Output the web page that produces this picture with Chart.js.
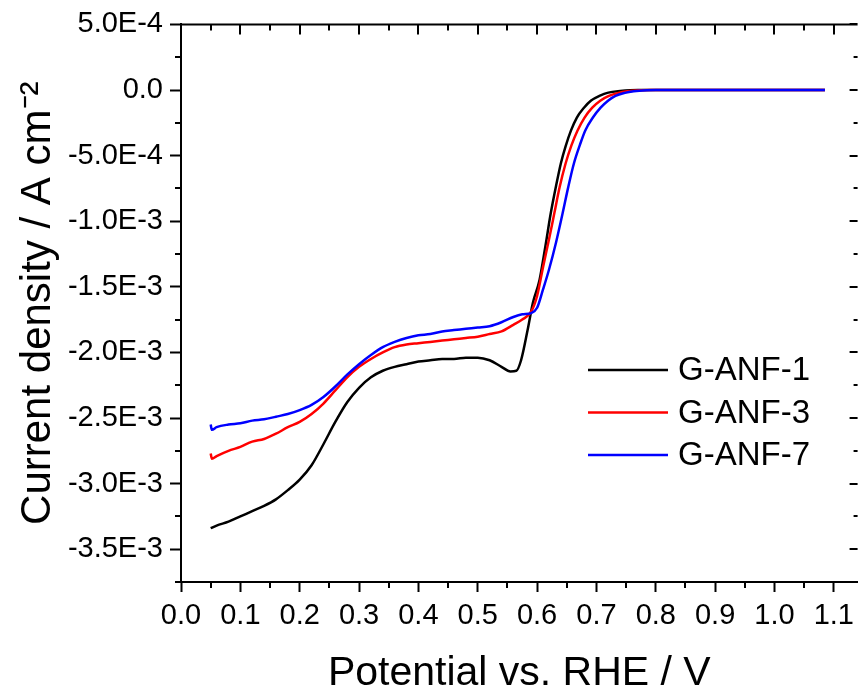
<!DOCTYPE html>
<html>
<head>
<meta charset="utf-8">
<script src="https://cdn.jsdelivr.net/npm/chart.js@4.4.1/dist/chart.umd.min.js"></script>
<style>
  html, body { margin: 0; padding: 0; background: #fff; }
  #wrap { width: 861px; height: 692px; }
</style>
</head>
<body>
<div id="wrap"><canvas id="lsv"></canvas></div>
<script>
// LSV curves, potential in V vs RHE, current density in mA/cm2 (converted to A/cm2 below)
const seriesNames = ['G-ANF-1', 'G-ANF-3', 'G-ANF-7'];
const seriesColors = ['#000000', '#ff0000', '#0000ff'];

const anf1E = [0.05, 0.06, 0.08, 0.10, 0.12, 0.14, 0.16, 0.18, 0.20, 0.22, 0.24, 0.26, 0.28, 0.30, 0.32, 0.34, 0.36, 0.38, 0.40, 0.42, 0.44, 0.46, 0.48, 0.50, 0.52, 0.54, 0.555, 0.565, 0.573, 0.584, 0.593, 0.604, 0.614, 0.623, 0.632, 0.64, 0.648, 0.657, 0.667, 0.679, 0.691, 0.705, 0.72, 0.74, 0.77, 0.85, 0.95, 1.05, 1.085];
const anf1J = [-3.34, -3.32, -3.29, -3.25, -3.21, -3.17, -3.12, -3.05, -2.97, -2.86, -2.70, -2.53, -2.38, -2.27, -2.19, -2.14, -2.11, -2.09, -2.07, -2.06, -2.05, -2.05, -2.04, -2.04, -2.06, -2.11, -2.145, -2.14, -2.06, -1.83, -1.62, -1.45, -1.19, -0.94, -0.73, -0.56, -0.43, -0.31, -0.21, -0.135, -0.08, -0.045, -0.02, -0.008, 0, 0, 0, 0, 0];

const anf3E = [0.05, 0.052, 0.06, 0.08, 0.10, 0.12, 0.14, 0.16, 0.18, 0.20, 0.22, 0.24, 0.26, 0.28, 0.30, 0.32, 0.34, 0.36, 0.38, 0.40, 0.42, 0.44, 0.46, 0.48, 0.50, 0.52, 0.54, 0.56, 0.575, 0.59, 0.60, 0.61, 0.62, 0.629, 0.638, 0.648, 0.658, 0.668, 0.68, 0.693, 0.707, 0.721, 0.737, 0.752, 0.775, 0.79, 0.85, 0.95, 1.05, 1.085];
const anf3J = [-2.77, -2.81, -2.79, -2.75, -2.72, -2.68, -2.66, -2.62, -2.57, -2.53, -2.47, -2.39, -2.29, -2.19, -2.11, -2.05, -2.00, -1.96, -1.94, -1.93, -1.92, -1.91, -1.90, -1.89, -1.88, -1.86, -1.84, -1.79, -1.75, -1.69, -1.57, -1.35, -1.14, -0.94, -0.74, -0.56, -0.42, -0.31, -0.21, -0.135, -0.08, -0.045, -0.022, -0.01, -0.002, 0, 0, 0, 0, 0];

const anf7E = [0.05, 0.052, 0.06, 0.08, 0.10, 0.12, 0.14, 0.16, 0.18, 0.20, 0.22, 0.24, 0.26, 0.28, 0.30, 0.32, 0.34, 0.36, 0.38, 0.40, 0.42, 0.44, 0.46, 0.48, 0.50, 0.52, 0.54, 0.56, 0.575, 0.59, 0.60, 0.61, 0.62, 0.632, 0.643, 0.652, 0.662, 0.672, 0.681, 0.694, 0.707, 0.72, 0.732, 0.748, 0.763, 0.785, 0.80, 0.85, 0.95, 1.05, 1.085];
const anf7J = [-2.55, -2.59, -2.57, -2.55, -2.54, -2.52, -2.51, -2.49, -2.47, -2.44, -2.40, -2.34, -2.26, -2.17, -2.09, -2.02, -1.96, -1.92, -1.89, -1.87, -1.86, -1.84, -1.83, -1.82, -1.81, -1.80, -1.77, -1.73, -1.71, -1.70, -1.66, -1.52, -1.37, -1.16, -0.94, -0.75, -0.56, -0.42, -0.31, -0.21, -0.135, -0.08, -0.045, -0.022, -0.01, -0.002, 0, 0, 0, 0, 0];

const xMajor = [0.0, 0.1, 0.2, 0.3, 0.4, 0.5, 0.6, 0.7, 0.8, 0.9, 1.0, 1.1];
const xTickLabels = ['0.0', '0.1', '0.2', '0.3', '0.4', '0.5', '0.6', '0.7', '0.8', '0.9', '1.0', '1.1'];
const xMinor = [0.05, 0.15, 0.25, 0.35, 0.45, 0.55, 0.65, 0.75, 0.85, 0.95, 1.05];

const yMajor = [5e-4, 0, -5e-4, -1e-3, -1.5e-3, -2e-3, -2.5e-3, -3e-3, -3.5e-3];
const yTickLabels = ['5.0E-4', '0.0', '-5.0E-4', '-1.0E-3', '-1.5E-3', '-2.0E-3', '-2.5E-3', '-3.0E-3', '-3.5E-3'];
const yMinor = [2.5e-4, -2.5e-4, -7.5e-4, -1.25e-3, -1.75e-3, -2.25e-3, -2.75e-3, -3.25e-3, -3.75e-3];

const FONT = "'Liberation Sans', Arial, sans-serif";

function toPoints(E, J) {
  return E.map((e, i) => ({ x: e, y: J[i] * 1e-3 }));
}

// minor ticks, top border with inward ticks, right inward ticks
const frameTicks = {
  id: 'frameTicks',
  afterDraw(chart) {
    const { ctx, chartArea: a, scales: { x, y } } = chart;
    ctx.save();
    ctx.strokeStyle = '#000';
    ctx.lineWidth = 2;
    ctx.beginPath();
    ctx.moveTo(a.left - 1, a.top);
    ctx.lineTo(a.right, a.top);
    xMajor.forEach(v => {
      const px = Math.round(x.getPixelForValue(v));
      ctx.moveTo(px, a.top); ctx.lineTo(px, a.top + 10);
    });
    xMinor.forEach(v => {
      const px = Math.round(x.getPixelForValue(v));
      ctx.moveTo(px, a.top); ctx.lineTo(px, a.top + 6);
      ctx.moveTo(px, a.bottom); ctx.lineTo(px, a.bottom + 6);
    });
    yMajor.forEach(v => {
      const py = Math.round(y.getPixelForValue(v));
      ctx.moveTo(a.right, py); ctx.lineTo(a.right - 8, py);
    });
    yMinor.forEach(v => {
      const py = Math.round(y.getPixelForValue(v));
      ctx.moveTo(a.left, py); ctx.lineTo(a.left - 6, py);
      ctx.moveTo(a.right, py); ctx.lineTo(a.right - 4, py);
    });
    ctx.stroke();
    ctx.restore();
  }
};

// legend inside the plot, lower right
const plotLegend = {
  id: 'plotLegend',
  afterDraw(chart) {
    const { ctx } = chart;
    ctx.save();
    ctx.font = `33px ${FONT}`;
    ctx.textBaseline = 'middle';
    ctx.fillStyle = '#000';
    chart.data.datasets.forEach((ds, i) => {
      const yy = 370 + i * 42.5;
      ctx.strokeStyle = ds.borderColor;
      ctx.lineWidth = 2.5;
      ctx.beginPath();
      ctx.moveTo(588, yy);
      ctx.lineTo(668, yy);
      ctx.stroke();
      ctx.fillText(ds.label, 678, yy + 1);
    });
    ctx.restore();
  }
};

const allSeries = [[anf1E, anf1J], [anf3E, anf3J], [anf7E, anf7J]];

new Chart(document.getElementById('lsv'), {
  type: 'scatter',
  data: {
    datasets: allSeries.map(([E, J], i) => ({
      label: seriesNames[i],
      data: toPoints(E, J),
      showLine: true,
      borderColor: seriesColors[i],
      backgroundColor: seriesColors[i],
      borderWidth: 2.5,
      pointRadius: 0,
      cubicInterpolationMode: 'monotone',
      order: 3 - i
    }))
  },
  options: {
    responsive: true,
    maintainAspectRatio: false,
    animation: false,
    devicePixelRatio: 1,
    layout: { padding: { top: 24, right: 0, left: 0, bottom: 0 } },
    plugins: {
      legend: { display: false },
      tooltip: { enabled: false }
    },
    scales: {
      x: {
        type: 'linear',
        min: 0,
        max: 1.14,
        afterBuildTicks: s => { s.ticks = xMajor.map(v => ({ value: v })); },
        afterFit: s => { s.height = 110; },
        ticks: {
          autoSkip: false,
          maxRotation: 0,
          padding: 7,
          color: '#000',
          font: { family: FONT, size: 29 },
          callback: (v, i) => xTickLabels[i]
        },
        grid: { drawOnChartArea: false, tickLength: 10, tickColor: '#000', tickWidth: 2 },
        border: { color: '#000', width: 2 },
        title: {
          display: true,
          text: 'Potential vs. RHE / V',
          color: '#000',
          font: { family: FONT, size: 41, lineHeight: 0.9 },
          padding: { top: 0, bottom: 0 }
        }
      },
      y: {
        type: 'linear',
        min: -3.75e-3,
        max: 5e-4,
        afterBuildTicks: s => { s.ticks = yMajor.map(v => ({ value: v })); },
        afterFit: s => { s.width = 181; },
        ticks: {
          autoSkip: false,
          padding: 7,
          color: '#000',
          font: { family: FONT, size: 29 },
          callback: (v, i) => yTickLabels[i]
        },
        grid: { drawOnChartArea: false, tickLength: 11, tickColor: '#000', tickWidth: 2 },
        border: { color: '#000', width: 2 },
        title: {
          display: true,
          text: 'Current density / A cm\u207B\u00B2',
          color: '#000',
          font: { family: FONT, size: 42 },
          padding: { top: 13, bottom: 0 }
        }
      }
    }
  },
  plugins: [frameTicks, plotLegend]
});
</script>
</body>
</html>
